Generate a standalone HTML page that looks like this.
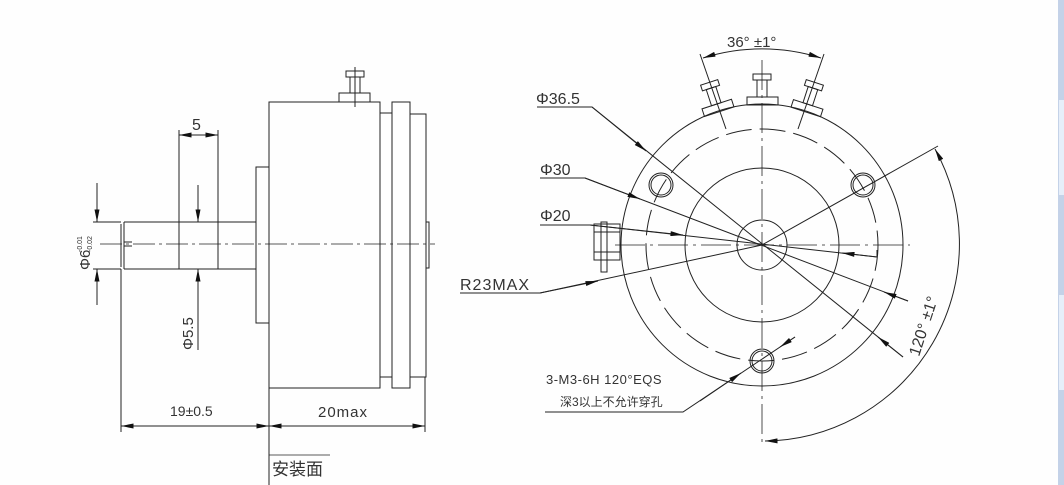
<!DOCTYPE html>
<html><head><meta charset="utf-8"><style>
html,body{margin:0;padding:0;background:#fff;width:1064px;height:485px;overflow:hidden}
svg{display:block}
text{font-family:"Liberation Sans","Noto Sans CJK SC",sans-serif;fill:#333}
</style></head><body>
<svg width="1064" height="485" viewBox="0 0 1064 485" xmlns="http://www.w3.org/2000/svg">
<defs>
<marker id="a" viewBox="0 0 10 4" refX="10" refY="2" markerWidth="14" markerHeight="5" markerUnits="userSpaceOnUse" orient="auto-start-reverse"><path d="M0,0 L10,2 L0,4 z" fill="#111"/></marker>
</defs>
<rect x="0" y="0" width="1064" height="485" fill="#fefefe"/>
<rect x="1058" y="0" width="6" height="485" fill="#c4d2e8"/>
<rect x="1059" y="100" width="5" height="95" fill="#e6eef9"/>
<rect x="1059" y="295" width="5" height="95" fill="#e6eef9"/>

<g stroke="#222" stroke-width="1" fill="none">
<!-- LEFT VIEW -->
<rect x="269" y="102" width="111" height="286"/>
<rect x="380" y="113" width="12" height="264"/>
<rect x="392" y="102" width="18" height="286"/>
<rect x="410" y="114" width="16" height="263"/>
<rect x="426" y="222" width="3" height="46"/>
<rect x="256" y="167" width="13" height="156"/>
<path d="M124,222 H256 M124,269 H256 M124,222 V269 M121,224 V267"/>
<path d="M179,222 V269 M218,222 V269"/>
<path d="M124,242 h8 M124,246 h8"/>
<rect x="339" y="93" width="31" height="9"/>
<rect x="350" y="77" width="10" height="16"/>
<rect x="346" y="71" width="18" height="6"/>
<path d="M355,67 V107"/>
<path d="M100,244 H435" stroke-dasharray="22,4,3,4" stroke-width="0.8"/>
<path d="M179,130 V222 M218,130 V222"/>
<path d="M179,135 H218" marker-start="url(#a)" marker-end="url(#a)"/>
<path d="M93,222 H121 M93,269 H121"/>
<path d="M97,183 V222" marker-end="url(#a)"/>
<path d="M97,305 V269" marker-end="url(#a)"/>
<path d="M198,185 V222" marker-end="url(#a)"/>
<path d="M198,350 V269" marker-end="url(#a)"/>
<path d="M121,269 V432 M269,388 V485 M425,377 V432"/>
<path d="M121,426 H269" marker-start="url(#a)" marker-end="url(#a)"/>
<path d="M269,426 H425" marker-start="url(#a)" marker-end="url(#a)"/>

<!-- RIGHT VIEW -->
<circle cx="762" cy="245" r="141"/>
<circle cx="762" cy="245" r="116" stroke-dasharray="26,8"/>
<circle cx="762" cy="245" r="77"/>
<circle cx="762" cy="245" r="25"/>
<circle cx="661" cy="185" r="12"/><circle cx="661" cy="185" r="10"/>
<circle cx="863" cy="185" r="12"/><circle cx="863" cy="185" r="10"/>
<circle cx="762" cy="361" r="12"/><circle cx="762" cy="361" r="10"/>
<path d="M762,60 V445" stroke-dasharray="30,5,3,5" stroke-width="0.8"/>
<path d="M615,245 H910" stroke-dasharray="30,5,3,5" stroke-width="0.8"/>
<g>
<rect x="747" y="97" width="31" height="8"/>
<rect x="757" y="80" width="10" height="17"/>
<rect x="753" y="74" width="18" height="6"/>
</g>
<g transform="rotate(-18 762 245)">
<rect x="747" y="97" width="31" height="8"/>
<rect x="757" y="80" width="10" height="17"/>
<rect x="753" y="74" width="18" height="6"/>
</g>
<g transform="rotate(18 762 245)">
<rect x="747" y="97" width="31" height="8"/>
<rect x="757" y="80" width="10" height="17"/>
<rect x="753" y="74" width="18" height="6"/>
</g>
<path d="M726,129 L700,54 M798,129 L824,54"/>
<path d="M703,58 A195,195 0 0 1 821,58" marker-start="url(#a)" marker-end="url(#a)"/>
<rect x="594" y="224" width="26" height="36"/>
<path d="M594,232 H620 M594,252 H620"/>
<rect x="601" y="222" width="6" height="50"/>
<path d="M762,245 L938,146"/>
<path d="M935,149 A197,197 0 0 1 765,441" marker-start="url(#a)" marker-end="url(#a)"/>
<path d="M537,107 H592 L903,357"/>
<path d="M592,107 L646,151" marker-end="url(#a)"/>
<path d="M903,357 L878,337" marker-end="url(#a)"/>
<path d="M540,178 H585 L908,301"/>
<path d="M585,178 L640,199" marker-end="url(#a)"/>
<path d="M908,301 L884,292" marker-end="url(#a)"/>
<path d="M540,225 H590 L877,257 V250"/>
<path d="M590,225 L683,235" marker-end="url(#a)"/>
<path d="M877,257 L842,253" marker-end="url(#a)"/>
<path d="M460,293 H540 L762,245"/>
<path d="M540,293 L598,281" marker-end="url(#a)"/>
<path d="M545,412 H683 L795,337"/>
<path d="M700,401 L741,373" marker-end="url(#a)"/>
<path d="M795,337 L780,347" marker-end="url(#a)"/>
<path d="M269,455 H330" stroke-width="0.8"/>
</g>

<text x="192" y="130" font-size="16">5</text>
<text transform="translate(90,270) rotate(-90)" font-size="15">Φ6</text>
<text transform="translate(82,252) rotate(-90)" font-size="7">-0.01</text>
<text transform="translate(92,252) rotate(-90)" font-size="7">-0.02</text>
<text transform="translate(193,350) rotate(-90)" font-size="15">Φ5.5</text>
<text x="170" y="416" font-size="14">19±0.5</text>
<text x="318" y="417" font-size="15" letter-spacing="1">20max</text>
<text x="272" y="475" font-size="17">安装面</text>
<text x="727" y="47" font-size="15">36° ±1°</text>
<text x="536" y="104" font-size="16">Φ36.5</text>
<text x="540" y="175" font-size="16">Φ30</text>
<text x="540" y="221" font-size="16">Φ20</text>
<text x="460" y="290" font-size="16" letter-spacing="1">R23MAX</text>
<text transform="translate(919,357) rotate(-72)" font-size="16">120° ±1°</text>
<text x="546" y="384" font-size="13" letter-spacing="0.5">3-M3-6H 120°EQS</text>
<text x="560" y="406" font-size="12">深3以上不允许穿孔</text>
</svg>
</body></html>
